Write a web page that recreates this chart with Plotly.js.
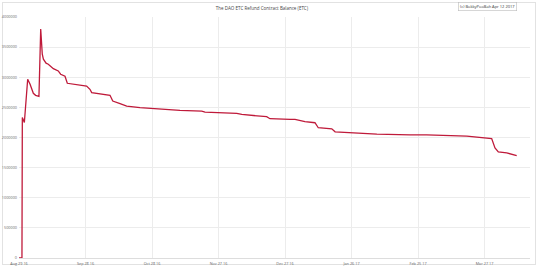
<!DOCTYPE html>
<html>
<head>
<meta charset="utf-8">
<script src="https://cdn.plot.ly/plotly-3.0.1.min.js"></script>
<style>
  html, body { margin: 0; padding: 0; background: #fff; }
  #frame { position: absolute; left: 2px; top: 2px; width: 534px; height: 263px; border: 1px solid #e2e2e2; box-sizing: border-box; }
  #chart { position: absolute; left: 0; top: 0; width: 540px; height: 269px; }
</style>
</head>
<body>
<div id="frame"></div>
<div id="chart"></div>
<script>
const dates = [
  "2016-08-29 00:00", "2016-08-30 08:00", "2016-08-30 12:00", "2016-08-31 10:00",
  "2016-09-01 22:00", "2016-09-03 00:00", "2016-09-04 11:00", "2016-09-05 12:00",
  "2016-09-07 00:00", "2016-09-07 19:00", "2016-09-08 12:00", "2016-09-09 00:00",
  "2016-09-10 05:00", "2016-09-11 05:00", "2016-09-13 12:00", "2016-09-15 17:00",
  "2016-09-16 19:00", "2016-09-18 18:00", "2016-09-19 19:00", "2016-09-22 12:00",
  "2016-09-28 12:00", "2016-09-30 00:00", "2016-09-30 19:00", "2016-10-09 01:00",
  "2016-10-10 07:00", "2016-10-13 14:00", "2016-10-16 14:00", "2016-10-22 14:00",
  "2016-10-30 02:00", "2016-11-04 10:00", "2016-11-09 14:00", "2016-11-19 10:00",
  "2016-11-20 22:00", "2016-12-05 05:00", "2016-12-07 12:00", "2016-12-18 17:00",
  "2016-12-20 05:00", "2016-12-29 07:00", "2016-12-31 12:00", "2017-01-05 00:00",
  "2017-01-09 12:00", "2017-01-11 00:00", "2017-01-17 02:00", "2017-01-18 14:00",
  "2017-01-28 07:00", "2017-02-06 10:00", "2017-02-21 10:00", "2017-02-28 22:00",
  "2017-03-19 00:00", "2017-03-28 00:00", "2017-03-30 05:00", "2017-03-31 17:00",
  "2017-04-02 05:00", "2017-04-06 00:00", "2017-04-10 12:00"
];
const balanceETC = [
  0, 0, 2333000, 2250000,
  2967000, 2883000, 2733000, 2700000,
  2683000, 3800000, 3383000, 3300000,
  3233000, 3217000, 3142000, 3105000,
  3050000, 3017000, 2900000, 2888000,
  2855000, 2800000, 2745000, 2700000,
  2605000, 2562000, 2522000, 2495000,
  2478000, 2458000, 2450000, 2438000,
  2422000, 2400000, 2383000, 2345000,
  2312000, 2300000, 2300000, 2262000,
  2245000, 2162000, 2145000, 2095000,
  2078000, 2055000, 2045000, 2045000,
  2022000, 1995000, 1983000, 1828000,
  1762000, 1745000, 1700000
];
const xTickVals = ["2016-08-29", "2016-09-28", "2016-10-28", "2016-11-27", "2016-12-27", "2017-01-26", "2017-02-25", "2017-03-27"];
const xTickText = ["Aug 29 16", "Sep 28 16", "Oct 28 16", "Nov 27 16", "Dec 27 16", "Jan 26 17", "Feb 25 17", "Mar 27 17"];
const yTickVals = [0, 500000, 1000000, 1500000, 2000000, 2500000, 3000000, 3500000, 4000000];
const yTickText = ["0", "500000", "1000000", "1500000", "2000000", "2500000", "3000000", "3500000", "4000000"];
const chartTitle = "The DAO ETC Refund Contract Balance (ETC)";
const creditText = "(c) BokkyPooBah Apr 12 2017";

const trace = {
  type: "scatter",
  mode: "lines",
  x: dates,
  y: balanceETC,
  line: { color: "#bf1a3a", width: 1.3 },
  hoverinfo: "x+y"
};

const layout = {
  width: 540,
  height: 269,
  margin: { l: 19, r: 10, t: 17, b: 11 },
  paper_bgcolor: "rgba(0,0,0,0)",
  plot_bgcolor: "#fff",
  font: { family: "Open Sans, sans-serif", size: 4, color: "#555" },
  showlegend: false,
  title: {
    text: chartTitle,
    x: 0.485, xanchor: "center",
    y: 0.967, yanchor: "middle",
    font: { size: 4.5, color: "#444" }
  },
  xaxis: {
    type: "date",
    range: ["2016-08-29", "2017-04-16 12:00"],
    tickmode: "array",
    tickvals: xTickVals,
    ticktext: xTickText,
    showgrid: true,
    gridcolor: "#ececec",
    gridwidth: 1,
    zeroline: false,
    showline: true,
    linecolor: "#dddddd",
    ticks: "",
    tickfont: { size: 3.8, color: "#666" },
    ticklabelstandoff: 1
  },
  yaxis: {
    range: [0, 4000000],
    tickmode: "array",
    tickvals: yTickVals,
    ticktext: yTickText,
    showgrid: true,
    gridcolor: "#ececec",
    gridwidth: 1,
    zeroline: false,
    showline: false,
    ticks: "",
    tickfont: { size: 3.8, color: "#666" },
    ticklabelstandoff: 1
  },
  annotations: [{
    text: creditText,
    xref: "paper", yref: "paper",
    x: 0.975, y: 1.045,
    xanchor: "right", yanchor: "middle",
    showarrow: false,
    font: { size: 4, color: "#333" },
    bordercolor: "#bbbbbb",
    borderwidth: 0.6,
    borderpad: 1.5,
    bgcolor: "#fff"
  }]
};

Plotly.newPlot("chart", [trace], layout, { displayModeBar: false, staticPlot: true });
</script>
</body>
</html>
